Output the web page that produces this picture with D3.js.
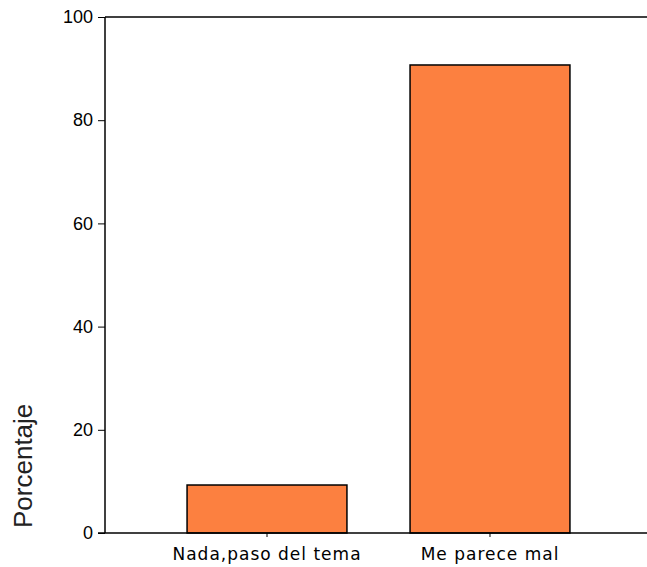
<!DOCTYPE html>
<html>
<head>
<meta charset="utf-8">
<script src="https://cdn.jsdelivr.net/npm/d3@7"></script>
<style>
  body { margin: 0; background: #fff; }
  svg { display: block; }
</style>
</head>
<body>
<svg id="chart" width="647" height="567"></svg>
<script>
// data
const categories = ["Nada,paso del tema", "Me parece mal"];
const values = [9.3, 90.7];
const yTicks = [0, 20, 40, 60, 80, 100];

const svg = d3.select("#chart");
const plotLeft = 105, plotTop = 17, plotBottom = 533, plotRight = 652;

const x = d3.scaleBand()
    .domain(categories)
    .range([plotLeft, plotRight])
    .paddingInner(0.283)
    .paddingOuter(0.368);

const y = d3.scaleLinear()
    .domain([0, 100])
    .range([plotBottom, plotTop]);

// top frame line
svg.append("line")
    .attr("x1", plotLeft).attr("x2", 647)
    .attr("y1", plotTop).attr("y2", plotTop)
    .attr("stroke", "#000").attr("stroke-width", 1.5);

// bars
svg.selectAll(".bar")
    .data(values)
    .enter().append("rect")
    .attr("class", "bar")
    .attr("x", (d, i) => x(categories[i]))
    .attr("y", d => y(d))
    .attr("width", x.bandwidth())
    .attr("height", d => y(0) - y(d))
    .style("fill", "#fc8040")
    .style("stroke", "#000")
    .style("stroke-width", 1.5);

// y axis
const yAxis = svg.append("g")
    .attr("transform", "translate(" + plotLeft + ",0)")
    .call(d3.axisLeft(y).tickValues(yTicks).tickSize(7).tickPadding(5));
yAxis.select(".domain").attr("stroke-width", 1.5).attr("d", "M0," + plotBottom + "V" + plotTop);
yAxis.selectAll("text")
    .style("font-family", "Arial, 'Liberation Sans', sans-serif")
    .style("font-size", "18px")
    .attr("fill", "#000");

// x axis
const xAxis = svg.append("g")
    .attr("transform", "translate(0," + plotBottom + ")")
    .call(d3.axisBottom(x).tickSize(4).tickPadding(11));
xAxis.select(".domain").attr("stroke-width", 1.5).attr("d", "M" + (plotLeft - 7) + ",0H647");
xAxis.selectAll("text")
    .style("font-family", "'DejaVu Sans', Verdana, sans-serif")
    .style("font-size", "17px")
    .style("letter-spacing", "1px")
    .attr("fill", "#000");

// y label
svg.append("text")
    .attr("transform", "translate(32,528) rotate(-90)")
    .style("font-family", "Arial, 'Liberation Sans', sans-serif")
    .style("font-size", "26px")
    .style("fill", "#222")
    .text("Porcentaje");
</script>
</body>
</html>
